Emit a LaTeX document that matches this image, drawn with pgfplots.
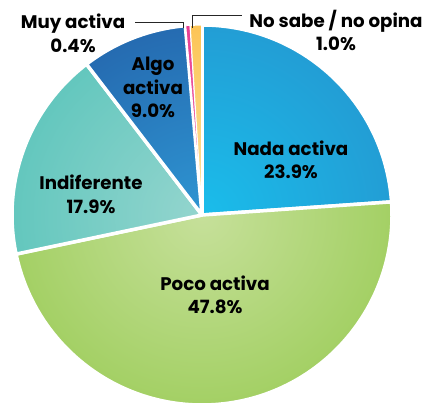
\documentclass[border=0pt]{standalone}
\usepackage{pgfplots}
\pgfplotsset{compat=1.18}
\usepackage{fontspec}
\setmainfont{Poppins}

\definecolor{nadaC}{HTML}{1ABDEB}
\definecolor{nadaR}{HTML}{2A83C2}
\definecolor{pocoC}{HTML}{C6E09A}
\definecolor{pocoR}{HTML}{8CC540}
\definecolor{indiC}{HTML}{94D5CE}
\definecolor{indiR}{HTML}{3ABBB0}
\definecolor{algoC}{HTML}{2E95D2}
\definecolor{algoR}{HTML}{1E4895}
\definecolor{muyC}{HTML}{F07AB4}
\definecolor{muyR}{HTML}{E3177D}
\definecolor{nosC}{HTML}{FDE3A0}
\definecolor{nosR}{HTML}{FBB22A}

\pgfdeclareradialshading{nadash}{\pgfpointorigin}{color(0bp)=(nadaC); color(46bp)=(nadaR); color(50bp)=(nadaR)}
\pgfdeclareradialshading{pocosh}{\pgfpointorigin}{color(0bp)=(pocoC); color(42bp)=(pocoR); color(50bp)=(pocoR)}
\pgfdeclareradialshading{indish}{\pgfpointorigin}{color(0bp)=(indiC); color(46bp)=(indiR); color(50bp)=(indiR)}
\pgfdeclareradialshading{algosh}{\pgfpointorigin}{color(0bp)=(algoC); color(46bp)=(algoR); color(50bp)=(algoR)}
\pgfdeclareradialshading{muysh}{\pgfpointorigin}{color(0bp)=(muyC); color(40bp)=(muyR); color(50bp)=(muyR)}
\pgfdeclareradialshading{nossh}{\pgfpointorigin}{color(0bp)=(nosC); color(40bp)=(nosR); color(50bp)=(nosR)}

% data (percent), clockwise from 12 o'clock
\def\vNada{23.9}
\def\vPoco{47.8}
\def\vIndi{17.9}
\def\vAlgo{9.0}
\def\vMuy{0.4}
\def\vNos{1.0}

\newcommand\slice[4]{% start angle, end angle, shading, border width
  \begin{scope}
    \clip (axis cs:202,191) -- ([shift={(#1:190bp)}]axis cs:202,191)
      arc[start angle=#1, end angle=#2, radius=190bp] -- cycle;
    \fill[shading=#3] (axis cs:202,191) circle[radius=190bp];
  \end{scope}
  \draw[white, line width=#4, line join=round]
    (axis cs:202,191) -- ([shift={(#1:190bp)}]axis cs:202,191)
      arc[start angle=#1, end angle=#2, radius=190bp] -- cycle;
}

\begin{document}
\begin{tikzpicture}
\pgfmathsetmacro\aA{90}
\pgfmathsetmacro\aB{\aA-3.6*\vNada}
\pgfmathsetmacro\aC{\aB-3.6*\vPoco}
\pgfmathsetmacro\aD{\aC-3.6*\vIndi}
\pgfmathsetmacro\aE{\aD-3.6*\vAlgo}
\pgfmathsetmacro\aF{\aE-3.6*\vMuy}
\pgfmathsetmacro\aG{\aF-3.6*\vNos}
\useasboundingbox (0,0) rectangle (426bp,406bp);
\begin{axis}[
  at={(0,0)}, anchor=south west,
  scale only axis, width=426bp, height=406bp,
  xmin=0, xmax=426, ymin=0, ymax=406,
  hide axis, clip=false]
  \slice{\aA}{\aB}{nadash}{3.5bp}
  \slice{\aB}{\aC}{pocosh}{3.5bp}
  \slice{\aC}{\aD}{indish}{3.5bp}
  \slice{\aD}{\aE}{algosh}{3.5bp}
  \slice{\aE}{\aF}{muysh}{0.8bp}
  \slice{\aF}{\aG}{nossh}{1.2bp}
  \draw[white, line width=2.8bp] (axis cs:202,191) -- ([shift={(\aA:191bp)}]axis cs:202,191);
  \draw[white, line width=1.8bp] (axis cs:202,191) -- ([shift={(\aE:191bp)}]axis cs:202,191);

  \draw[black!85, line width=1bp] (axis cs:135,383) -- (axis cs:183,383) -- (axis cs:183,378);
  \draw[black!85, line width=1bp] (axis cs:192,378) -- (axis cs:192,390.5) -- (axis cs:242,390.5);

  \tikzset{lab/.style={align=center, font=\bfseries\fontsize{18.3}{23.5}\selectfont, text=black, inner sep=0pt}}
  \node[lab] at (axis cs:291,246) {Nada activa\\23.9\%};
  \node[lab] at (axis cs:215,111) {Poco activa\\47.8\%};
  \node[lab] at (axis cs:91,211.5) {Indiferente\\17.9\%};
  \node[lab] at (axis cs:153,318.5) {Algo\\activa\\9.0\%};
  \node[lab] at (axis cs:73,372.5) {Muy activa\\0.4\%};
  \node[lab] at (axis cs:336,375.5) {No sabe / no opina\\1.0\%};
\end{axis}
\end{tikzpicture}
\end{document}
